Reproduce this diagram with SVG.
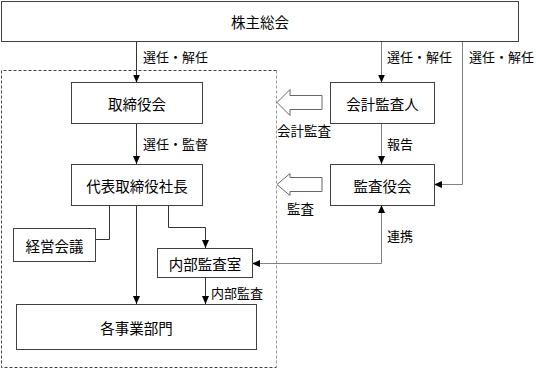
<svg xmlns="http://www.w3.org/2000/svg" width="536" height="369" viewBox="0 0 536 369">
<style>
  .box { fill: #fff; stroke: #404040; stroke-width: 1; }
  .t { font-family: "Noto Sans CJK JP", sans-serif; font-size: 14.5px; fill: #000; text-anchor: middle; dominant-baseline: central; }
  .lbl { font-family: "Noto Sans CJK JP", sans-serif; font-size: 13px; fill: #000; dominant-baseline: central; }
  .c { fill: none; stroke: #333; stroke-width: 1; }
  .cg { fill: none; stroke: #808080; stroke-width: 1; }
  .hollow { fill: #fff; stroke: #666; stroke-width: 1; }
</style>
<defs>
  <marker id="ah" viewBox="0 0 8 8" refX="8" refY="4" markerWidth="8" markerHeight="8" markerUnits="userSpaceOnUse" orient="auto">
    <path d="M0,0.5 L8,4 L0,7.5 Z" fill="#000"/>
  </marker>
</defs>
<rect width="536" height="369" fill="#fff"/>

<g id="container">
  <path d="M276.5,70.5 L1.5,70.5 L1.5,367.5 L276.5,367.5" fill="none" stroke="#444" stroke-dasharray="3,2"/>
  <path d="M276.5,70.5 L276.5,367.5" fill="none" stroke="#999" stroke-dasharray="3,2"/>
</g>

<g id="connectors">
  <path class="c" d="M136.5,41.5 V82.5" marker-end="url(#ah)"/>
  <path class="c" d="M136.5,123.5 V164" marker-end="url(#ah)"/>
  <path class="cg" d="M381.5,41.5 V82.5" marker-end="url(#ah)"/>
  <path class="cg" d="M381.5,123.5 V164" marker-end="url(#ah)"/>
  <path class="cg" d="M462.5,41.5 V184.5 H434" marker-end="url(#ah)"/>
  <path class="c" d="M109.5,205 V239.5 H95"/>
  <path class="c" d="M136.5,205 V304" marker-end="url(#ah)"/>
  <path class="c" d="M168.5,205 V227.5 H205.5 V248" marker-end="url(#ah)"/>
  <path class="cg" d="M381.5,263.5 V205" marker-end="url(#ah)"/>
  <path class="cg" d="M381.5,263.5 H252" marker-end="url(#ah)"/>
  <path class="c" d="M205.5,277 V304" marker-end="url(#ah)"/>
  <text class="lbl" x="143" y="56">選任・解任</text>
  <text class="lbl" x="143" y="143">選任・監督</text>
  <text class="lbl" x="387" y="56">選任・解任</text>
  <text class="lbl" x="387" y="143">報告</text>
  <text class="lbl" x="469" y="56">選任・解任</text>
  <text class="lbl" x="387" y="235">連携</text>
  <text class="lbl" x="211" y="292">内部監査</text>
</g>

<g id="audit-arrows">
  <polygon class="hollow" points="277,102.5 290,89.5 290,95.5 322,95.5 322,109.5 290,109.5 290,115.5"/>
  <text class="lbl" x="277" y="130" style="font-size:13.5px">会計監査</text>
  <polygon class="hollow" points="277,184.5 290,173.5 290,177.5 322,177.5 322,191.5 290,191.5 290,195.5"/>
  <text class="lbl" x="287" y="208" style="font-size:13.5px">監査</text>
</g>

<g id="kabunushi"><rect class="box" x="1.5" y="1.5" width="517" height="40"/><text class="t" x="260" y="21.5">株主総会</text></g>
<g id="torishimariyakukai"><rect class="box" x="71.5" y="82.5" width="131" height="41"/><text class="t" x="137" y="103">取締役会</text></g>
<g id="kaikeikansanin"><rect class="box" x="330.5" y="82.5" width="104" height="41"/><text class="t" x="382.5" y="103">会計監査人</text></g>
<g id="daihyo"><rect class="box" x="71.5" y="164.5" width="131" height="41"/><text class="t" x="137" y="185">代表取締役社長</text></g>
<g id="kansayakukai"><rect class="box" x="330.5" y="164.5" width="104" height="41"/><text class="t" x="382.5" y="185">監査役会</text></g>
<g id="keieikaigi"><rect class="box" x="13.5" y="228.5" width="82" height="33"/><text class="t" x="54.5" y="245">経営会議</text></g>
<g id="naibukansashitsu"><rect class="box" x="157.5" y="248.5" width="95" height="29"/><text class="t" x="205" y="263">内部監査室</text></g>
<g id="jigyobumon"><rect class="box" x="16.5" y="304.5" width="240" height="45"/><text class="t" x="136.5" y="327">各事業部門</text></g>
</svg>
